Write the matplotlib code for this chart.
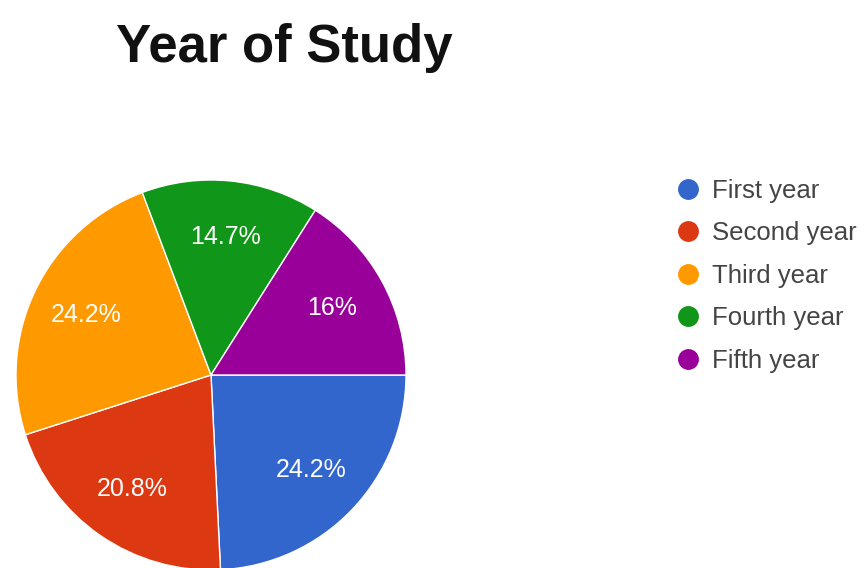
import matplotlib.pyplot as plt
from matplotlib.lines import Line2D

plt.rcParams['font.family'] = ['Liberation Sans', 'DejaVu Sans']

years = ['First year', 'Second year', 'Third year', 'Fourth year', 'Fifth year']
shares = [24.2, 20.8, 24.2, 14.7, 16]
colors = ['#3366cc', '#dc3912', '#ff9900', '#109618', '#990099']

total = sum(shares)

fig = plt.figure(figsize=(8.65, 5.68), dpi=100)

# pie sits low on the left, slightly cut off at the bottom edge
ax = fig.add_axes([16 / 865, -2 / 568, 390 / 865, 390 / 568])
wedges, _, pct_texts = ax.pie(
    shares, colors=colors, startangle=0, counterclock=False,
    autopct=lambda p: f"{round(p * total / 100, 1):g}%",
    pctdistance=0.71,
    wedgeprops=dict(edgecolor='white', linewidth=1),
    textprops=dict(color='white', fontsize=18),
)
ax.set_xlim(-1, 1)
ax.set_ylim(-1, 1)
ax.set_aspect('equal')

fig.text(284 / 865, 1 - 48 / 568, 'Year of Study', ha='center', va='center',
         fontsize=38, fontweight='bold', color='#111111')

handles = [Line2D([], [], linestyle='none', marker='o', markersize=14,
                  markerfacecolor=c, markeredgecolor=c) for c in colors]
leg = fig.legend(handles, years, loc='upper left',
                 bbox_to_anchor=(662 / 865, 1 - 166 / 568),
                 frameon=False, fontsize=18.5, labelspacing=0.72,
                 handlelength=1.0, handletextpad=0.45, borderpad=0)
for t in leg.get_texts():
    t.set_color('#444444')

fig.savefig('out.png', dpi=100)
